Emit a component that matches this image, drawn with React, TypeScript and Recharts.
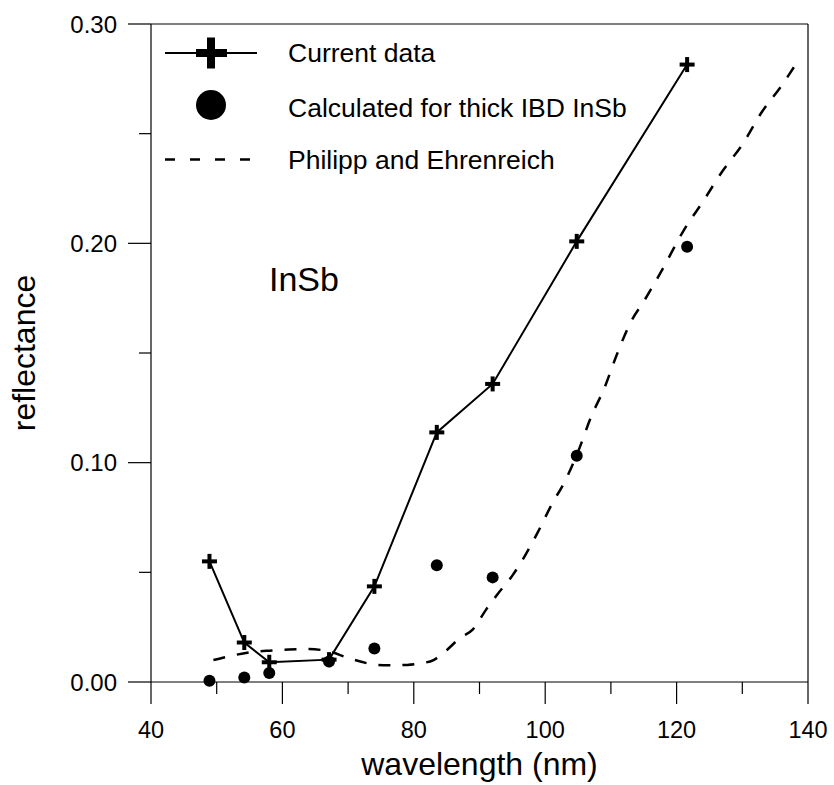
import React from 'react'
import { ScatterChart, Scatter, XAxis, YAxis, Legend, Customized } from 'recharts'

// wavelengths (nm) shared by measured and calculated points
const wavelength = [48.9, 54.2, 58.0, 67.1, 74.0, 83.5, 92.0, 104.8, 121.6]
const currentData = [0.055, 0.018, 0.009, 0.0102, 0.0436, 0.1138, 0.1359, 0.2009, 0.2815]
const calculated = [0.0006, 0.0021, 0.0041, 0.0093, 0.0153, 0.0532, 0.0477, 0.1032, 0.1984]

// Philipp and Ehrenreich curve
const peWavelength = [49.5, 52, 55, 58, 61, 64, 67, 70, 73, 76, 79, 81, 83, 85, 87, 89, 91, 93, 95, 97, 99, 101, 103, 105, 107, 109, 111, 113, 115, 118, 121, 124, 127, 130, 133, 136, 138]
const peReflectance = [0.0100, 0.0118, 0.0135, 0.0143, 0.0148, 0.0150, 0.0140, 0.0110, 0.0085, 0.0076, 0.0078, 0.0085, 0.0100, 0.0145, 0.0200, 0.0240, 0.0330, 0.0410, 0.0485, 0.0580, 0.0690, 0.0810, 0.0915, 0.1050, 0.1210, 0.1340, 0.1500, 0.1640, 0.1735, 0.1890, 0.2055, 0.2190, 0.2330, 0.2450, 0.2600, 0.2720, 0.2810]

const xTicks = [40, 50, 60, 70, 80, 90, 100, 110, 120, 130, 140]
const yTicks = [0, 0.05, 0.1, 0.15, 0.2, 0.25, 0.3]

const legendLabels = ['Current data', 'Calculated for thick IBD InSb', 'Philipp and Ehrenreich']

const FONT = '"Liberation Sans", Arial, sans-serif'
const AX = '#000'

const measured = wavelength.map((x, i) => ({ x, y: currentData[i] }))
const calc = wavelength.map((x, i) => ({ x, y: calculated[i] }))
const pe = peWavelength.map((x, i) => ({ x, y: peReflectance[i] }))

const isMajorX = (v: number) => v % 20 === 0
const isMajorY = (v: number) => Math.round(v * 100) % 10 === 0

const BottomTick = (p: any) => {
  const major = isMajorX(p.payload.value)
  return (
    <g>
      <line x1={p.x} y1={p.y} x2={p.x} y2={p.y + (major ? 22 : 12)} stroke={AX} strokeWidth={1.2} />
      {major && (
        <text x={p.x} y={p.y + 56} textAnchor="middle" fontSize={23.5} fontFamily={FONT} fill="#000">{p.payload.value}</text>
      )}
    </g>
  )
}

const TopTick = (p: any) => {
  const major = isMajorX(p.payload.value)
  return <line x1={p.x} y1={p.y} x2={p.x} y2={p.y - (major ? 11 : 5)} stroke={AX} strokeWidth={1.2} />
}

const LeftTick = (p: any) => {
  const major = isMajorY(p.payload.value)
  return (
    <g>
      <line x1={p.x} y1={p.y} x2={p.x - (major ? 23 : 12)} y2={p.y} stroke={AX} strokeWidth={1.2} />
      {major && (
        <text x={p.x - 34} y={p.y + 8.5} textAnchor="end" fontSize={24} fontFamily={FONT} fill="#000">{p.payload.value.toFixed(2)}</text>
      )}
    </g>
  )
}

const RightTick = (p: any) => {
  const major = isMajorY(p.payload.value)
  return <line x1={p.x} y1={p.y} x2={p.x + (major ? 12 : 5)} y2={p.y} stroke={AX} strokeWidth={1.2} />
}

const PlusShape = (p: any) => {
  const { cx, cy } = p
  return (
    <g fill="#000">
      <rect x={cx - 7.5} y={cy - 2} width={15} height={4} />
      <rect x={cx - 2} y={cy - 7.5} width={4} height={15} />
    </g>
  )
}

const DotShape = (p: any) => <circle cx={p.cx} cy={p.cy} r={6} fill="#000" />
const NoShape = () => <g />

const LegendBox = () => (
  <svg width={520} height={180} style={{ display: 'block', overflow: 'visible' }}>
    <line x1={15} y1={33} x2={107} y2={33} stroke="#000" strokeWidth={2} />
    <rect x={46} y={29} width={31} height={8} fill="#000" />
    <rect x={57} y={17.5} width={8} height={31} fill="#000" />
    <text x={138} y={42} fontSize={26.5} fontFamily={FONT}>{legendLabels[0]}</text>
    <circle cx={61} cy={85} r={15} fill="#000" />
    <text x={138} y={96.5} fontSize={26.5} fontFamily={FONT}>{legendLabels[1]}</text>
    <line x1={15} y1={139.5} x2={100} y2={139.5} stroke="#000" strokeWidth={2.5} strokeDasharray="10 15" />
    <text x={138} y={148.5} fontSize={26.5} fontFamily={FONT}>{legendLabels[2]}</text>
  </svg>
)

const MaterialLabel = () => (
  <text x={269} y={291} fontSize={34} fontFamily={FONT} fill="#000">InSb</text>
)

export default function App() {
  return (
    <div style={{ position: 'absolute', left: 0, top: 0, background: '#fff' }}>
      <ScatterChart width={834} height={785} margin={{ top: 0, right: 0, bottom: 0, left: 0 }}>
        <XAxis
          xAxisId={0}
          type="number"
          dataKey="x"
          domain={[40, 140]}
          ticks={xTicks}
          interval={0}
          orientation="bottom"
          height={103}
          tickSize={0}
          tickMargin={0}
          tickLine={false}
          axisLine={{ stroke: AX, strokeWidth: 1.2 }}
          tick={BottomTick}
          label={{ value: 'wavelength (nm)', position: 'insideBottom', offset: 10, fontSize: 32, fontFamily: FONT, fill: '#000' }}
        />
        <XAxis
          xAxisId="top"
          type="number"
          dataKey="x"
          domain={[40, 140]}
          ticks={xTicks}
          interval={0}
          orientation="top"
          height={24}
          tickSize={0}
          tickMargin={0}
          tickLine={false}
          axisLine={{ stroke: AX, strokeWidth: 1.2 }}
          tick={TopTick}
        />
        <YAxis
          yAxisId={0}
          type="number"
          dataKey="y"
          domain={[0, 0.3]}
          ticks={yTicks}
          interval={0}
          orientation="left"
          width={151}
          tickSize={0}
          tickMargin={0}
          tickLine={false}
          axisLine={{ stroke: AX, strokeWidth: 1.2 }}
          tick={LeftTick}
          label={{ value: 'reflectance', angle: -90, position: 'insideLeft', offset: 24, fontSize: 32, fontFamily: FONT, fill: '#000', style: { textAnchor: 'middle' } }}
        />
        <YAxis
          yAxisId="right"
          type="number"
          dataKey="y"
          domain={[0, 0.3]}
          ticks={yTicks}
          interval={0}
          orientation="right"
          width={26}
          tickSize={0}
          tickMargin={0}
          tickLine={false}
          axisLine={{ stroke: AX, strokeWidth: 1.2 }}
          tick={RightTick}
        />
        <Scatter
          data={pe}
          shape={NoShape}
          line={{ stroke: '#000', strokeWidth: 2.5, strokeDasharray: '12 12' }}
          lineJointType="monotoneX"
          isAnimationActive={false}
        />
        <Scatter data={calc} shape={DotShape} isAnimationActive={false} />
        <Scatter
          data={measured}
          shape={PlusShape}
          line={{ stroke: '#000', strokeWidth: 2 }}
          lineJointType="linear"
          isAnimationActive={false}
        />
        <Legend
          layout="vertical"
          align="center"
          verticalAlign="middle"
          content={LegendBox}
          wrapperStyle={{ left: 150, top: 20, width: 520, height: 180 }}
        />
        <Customized component={MaterialLabel} />
      </ScatterChart>
    </div>
  )
}
